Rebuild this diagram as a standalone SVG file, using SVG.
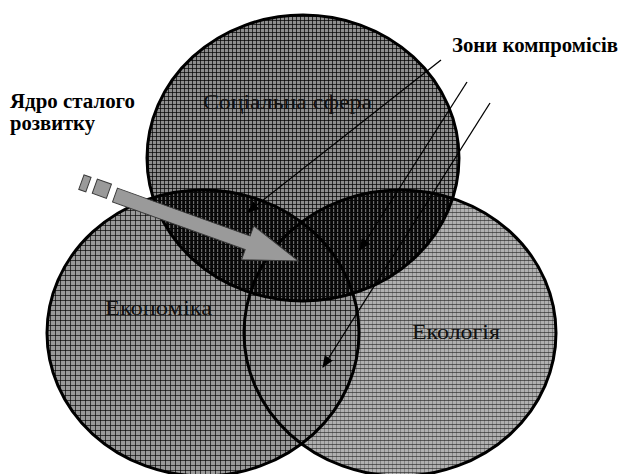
<svg xmlns="http://www.w3.org/2000/svg" width="620" height="474" viewBox="0 0 620 474">
<style>
.outline{fill:none;stroke:#000;stroke-width:3}
.lbl{font-family:"Liberation Serif","Times New Roman",serif;font-size:21px;fill:#111}
.bold{font-family:"Liberation Serif","Times New Roman",serif;font-size:20px;font-weight:bold;fill:#000}
.conn{stroke:#000;stroke-width:1.3;fill:none}
.arr{fill:#9a9a9a;stroke:#3a3a3a;stroke-width:1}
</style>
<defs>
<pattern id="patTop" width="4" height="4" patternUnits="userSpaceOnUse">
<rect width="4" height="4" fill="#8e8e8e"/>
<path d="M0.5 0V4M0 0.5H4" stroke="#000" stroke-opacity="0.7" stroke-width="1"/>
</pattern>
<pattern id="patLeft" width="5" height="5" patternUnits="userSpaceOnUse">
<rect width="5" height="5" fill="#999"/>
<path d="M0.5 0V5M0 0.5H5" stroke="#000" stroke-opacity="0.65" stroke-width="1"/>
</pattern>
<pattern id="patRight" width="4" height="4" patternUnits="userSpaceOnUse">
<rect width="4" height="4" fill="#b0b0b0"/>
<path d="M0 0.5H4" stroke="#222" stroke-opacity="0.6" stroke-width="1"/>
<path d="M0.5 0V4" stroke="#222" stroke-opacity="0.3" stroke-width="1"/>
</pattern>
<pattern id="patDark" width="4" height="4" patternUnits="userSpaceOnUse">
<rect width="4" height="4" fill="#080808"/>
<rect x="1" y="1" width="1.2" height="3" fill="#6a6a6a"/>
</pattern>
<clipPath id="clipTop">
<ellipse cx="303" cy="158" rx="156" ry="143"/>
</clipPath>
<marker id="ah" viewBox="0 0 10 8" refX="9" refY="4" markerWidth="12" markerHeight="10" markerUnits="userSpaceOnUse" orient="auto">
<path d="M0 0L10 4L0 8Z" fill="#000"/>
</marker>
</defs>
<rect width="620" height="474" fill="#fff"/>

<g id="social">
<ellipse cx="303" cy="158" rx="156" ry="143" fill="url(#patTop)"/>
</g>
<g id="ecology">
<ellipse cx="400" cy="333" rx="156" ry="143" fill="url(#patRight)"/>
</g>
<g id="economy">
<ellipse cx="203" cy="333" rx="156" ry="143" fill="url(#patLeft)"/>
</g>
<g id="overlap" clip-path="url(#clipTop)">
<ellipse cx="203" cy="333" rx="156" ry="143" fill="url(#patDark)"/>
<ellipse cx="400" cy="333" rx="156" ry="143" fill="url(#patDark)"/>
</g>
<g id="outlines">
<ellipse class="outline" cx="303" cy="158" rx="156" ry="143"/>
<ellipse class="outline" cx="203" cy="333" rx="156" ry="143"/>
<ellipse class="outline" cx="400" cy="333" rx="156" ry="143"/>
</g>
<g id="labels">
<text class="lbl" x="203" y="109" textLength="169" lengthAdjust="spacingAndGlyphs">Соціальна сфера</text>
<text class="lbl" x="105" y="315" textLength="107" lengthAdjust="spacingAndGlyphs">Економіка</text>
<text class="lbl" x="412" y="339" textLength="88" lengthAdjust="spacingAndGlyphs">Екологія</text>
</g>

<g id="core">
<g transform="translate(115,195) rotate(19.8)">
<rect class="arr" x="-36" y="-8.5" width="7.5" height="15.5"/>
<rect class="arr" x="-22" y="-9" width="15" height="15"/>
<path class="arr" d="M0 -7.3H141V-18L195 0L141 18V7.3H0Z"/>
</g>
<text class="bold" x="10" y="108" textLength="125" lengthAdjust="spacingAndGlyphs">Ядро сталого</text>
<text class="bold" x="10" y="130" textLength="85" lengthAdjust="spacingAndGlyphs">розвитку</text>
</g>

<g id="compromise">
<text class="bold" x="452" y="52" textLength="166" lengthAdjust="spacingAndGlyphs">Зони компромісів</text>
</g>

<g id="connectors">
<line class="conn" x1="441" y1="60" x2="248" y2="212" marker-end="url(#ah)"/>
<line class="conn" x1="467" y1="82" x2="360" y2="250" marker-end="url(#ah)"/>
<line class="conn" x1="490" y1="103" x2="323" y2="367" marker-end="url(#ah)"/>
</g>
</svg>
